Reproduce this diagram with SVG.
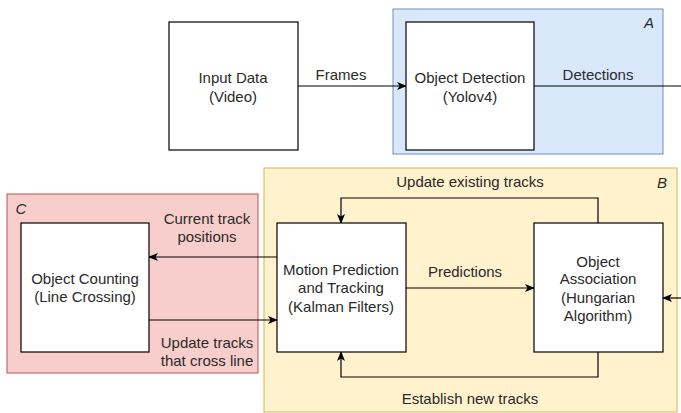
<svg xmlns="http://www.w3.org/2000/svg" width="681" height="413" viewBox="0 0 681 413">
  <style>
    text { font-family: "Liberation Sans", Arial, sans-serif; font-size: 15px; fill: #2a2a2a; text-anchor: middle; }
    .tag { font-style: italic; }
    .box { fill: #ffffff; stroke: #000000; stroke-width: 1.2; }
    .edge { fill: none; stroke: #000000; stroke-width: 1.2; }
  </style>
  <defs>
    <marker id="arrow" viewBox="0 0 10 10" refX="9" refY="5" markerWidth="10" markerHeight="10" markerUnits="userSpaceOnUse" orient="auto">
      <path d="M0,1 L10,5 L0,9 L2.5,5 Z" fill="#000"/>
    </marker>
  </defs>

  <!-- Group regions -->
  <g id="region-a">
    <rect x="393" y="9" width="270" height="145" fill="#dae8fc" stroke="#6c8ebf" stroke-width="1"/>
    <text class="tag" x="649" y="28">A</text>
  </g>
  <g id="region-b">
    <rect x="264" y="168" width="413" height="244" fill="#fff2cc" stroke="#d6b656" stroke-width="1"/>
    <text class="tag" x="662" y="188">B</text>
  </g>
  <g id="region-c">
    <rect x="7" y="194" width="251" height="179" fill="#f8cecc" stroke="#b85450" stroke-width="1"/>
    <text class="tag" x="21" y="214">C</text>
  </g>

  <!-- Connectors -->
  <g id="connectors">
    <path class="edge" d="M298,86 H406" marker-end="url(#arrow)"/>
    <text x="341" y="80">Frames</text>

    <path class="edge" d="M534,86 H681"/>
    <text x="598" y="80">Detections</text>

    <path class="edge" d="M681,298 H663" marker-end="url(#arrow)"/>

    <path class="edge" d="M406,288 H534" marker-end="url(#arrow)"/>
    <text x="465" y="277">Predictions</text>

    <path class="edge" d="M598,223 V198 H341 V223" marker-end="url(#arrow)"/>
    <text x="470" y="187">Update existing tracks</text>

    <path class="edge" d="M598,352 V377 H341 V352" marker-end="url(#arrow)"/>
    <text x="470" y="404">Establish new tracks</text>

    <path class="edge" d="M277,257 H149" marker-end="url(#arrow)"/>
    <text x="207" y="224">Current track</text>
    <text x="207" y="242">positions</text>

    <path class="edge" d="M149,320 H277" marker-end="url(#arrow)"/>
    <text x="207" y="348">Update tracks</text>
    <text x="207" y="366">that cross line</text>
  </g>

  <!-- Nodes -->
  <g id="input-data">
    <rect class="box" x="169" y="22" width="129" height="128"/>
    <text x="233" y="83">Input Data</text>
    <text x="233" y="102">(Video)</text>
  </g>
  <g id="object-detection">
    <rect class="box" x="406" y="22" width="128" height="128"/>
    <text x="470" y="83">Object Detection</text>
    <text x="470" y="102">(Yolov4)</text>
  </g>
  <g id="motion-prediction">
    <rect class="box" x="277" y="223" width="129" height="129"/>
    <text x="341" y="275">Motion Prediction</text>
    <text x="341" y="293">and Tracking</text>
    <text x="341" y="312">(Kalman Filters)</text>
  </g>
  <g id="object-association">
    <rect class="box" x="534" y="223" width="129" height="129"/>
    <text x="598" y="267">Object</text>
    <text x="598" y="284">Association</text>
    <text x="598" y="303">(Hungarian</text>
    <text x="598" y="321">Algorithm)</text>
  </g>
  <g id="object-counting">
    <rect class="box" x="21" y="223" width="128" height="129"/>
    <text x="85" y="284">Object Counting</text>
    <text x="85" y="302">(Line Crossing)</text>
  </g>
</svg>
